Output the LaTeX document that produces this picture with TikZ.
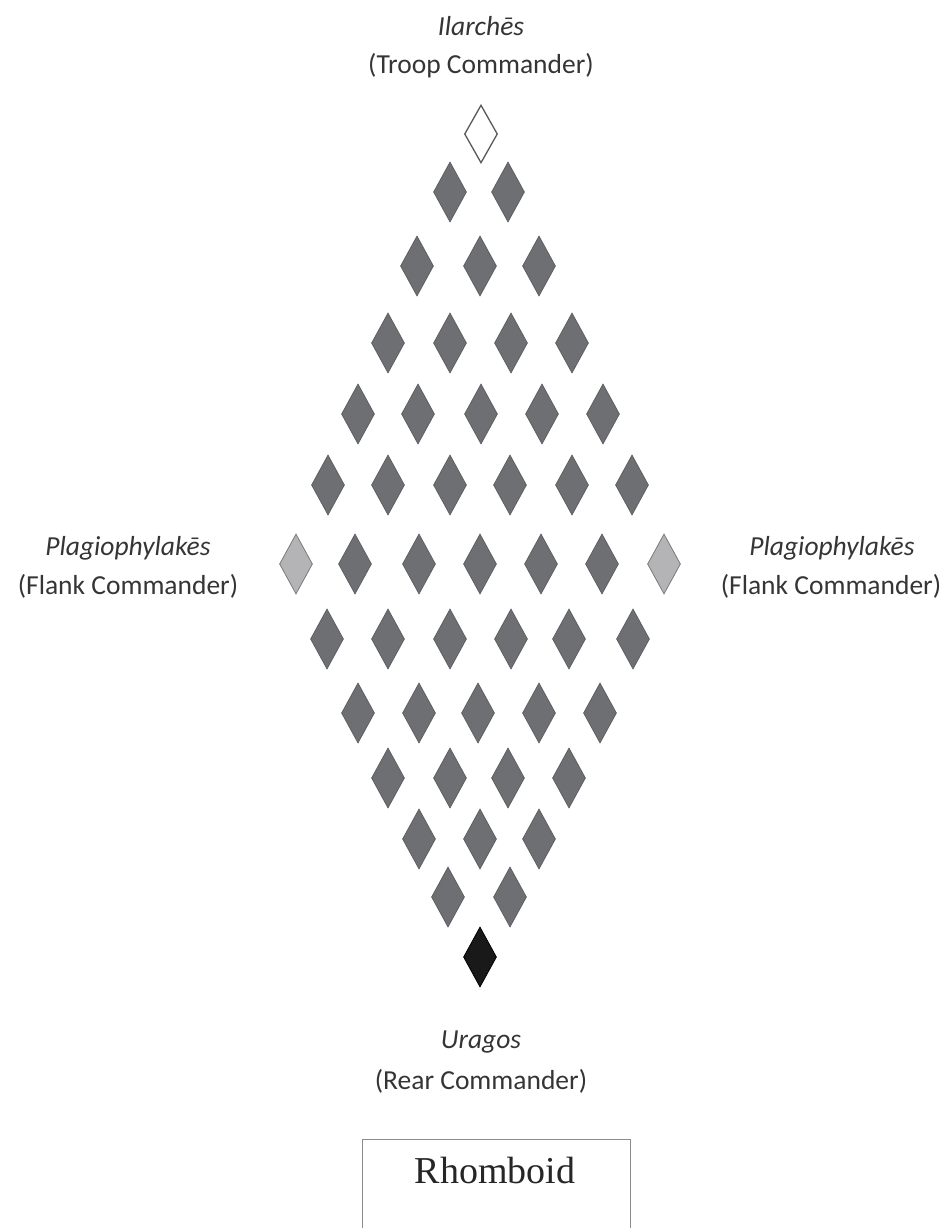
\documentclass[tikz,border=0pt]{standalone}
\usepackage{fontspec}
\setmainfont{Carlito}
\newfontfamily\boxfont{Liberation Serif}
\usetikzlibrary{shapes.geometric}
\definecolor{troop}{HTML}{6E6F73}
\definecolor{troopedge}{HTML}{5E5F63}
\definecolor{flank}{HTML}{B4B4B6}
\definecolor{flankedge}{HTML}{7A7A7C}
\definecolor{labeltext}{HTML}{353535}
\tikzset{
  rhomb/.style={shape=diamond, minimum width=33pt, minimum height=60pt, inner sep=0pt, line width=0.8pt},
  gd/.style={rhomb, fill=troop, draw=troopedge},
  fd/.style={rhomb, fill=flank, draw=flankedge},
  wd/.style={rhomb, fill=white, draw=black!65, line width=1.3pt, minimum height=58pt},
  bd/.style={rhomb, fill=black!90, draw=black},
  lab/.style={text=labeltext, font=\fontsize{27.5}{32}\selectfont, inner sep=0pt, align=center},
}
\begin{document}
\begin{tikzpicture}[x=1pt, y=-1pt]
\useasboundingbox (0,0) rectangle (951,1228);
\clip (0,0) rectangle (951,1228);
% commanders
\node[wd] (ilarches) at (481,134) {};
\node[bd] (uragos) at (480,957) {};
\node[fd] (flankL) at (296,564) {};
\node[fd] (flankR) at (664,564) {};
% troops
\foreach \yy/\xs [count=\r] in {
  192/{450,508},
  266/{417,480,539},
  343/{388,450,511,572},
  414/{358,418,481,542,603},
  485/{328,388,450,510,572,632},
  564/{355,419,480,541,602},
  639/{327,388,450,511,569,633},
  713/{358,419,478,539,600},
  778/{388,450,508,569},
  839/{419,480,539},
  897/{448,510}}{
  \foreach \xx [count=\i] in \xs {
    \node[gd] (t-\r-\i) at (\xx,\yy) {};
  }
}
% labels
\node[lab] (l-ilar) at (481,26) {\itshape Ilarchēs};
\node[lab] (l-troop) at (481,66) {(Troop Commander)};
\node[lab] (l-plagL) at (128,548) {\itshape Plagiophylakēs};
\node[lab] (l-flankL) at (128,586) {(Flank Commander)};
\node[lab] (l-plagR) at (832,548) {\itshape Plagiophylakēs};
\node[lab] (l-flankR) at (831,586) {(Flank Commander)};
\node[lab] (l-urag) at (481,1042) {\itshape Uragos};
\node[lab] (l-rear) at (481,1081) {(Rear Commander)};
% title box
\draw[draw=black!45, line width=1pt] (362,1240) -- (362,1139) -- (630,1139) -- (630,1240);
\node[text=black!85, font=\boxfont\fontsize{38}{44}\selectfont, inner sep=0pt] (title) at (495,1170) {Rhomboid};
\end{tikzpicture}
\end{document}
